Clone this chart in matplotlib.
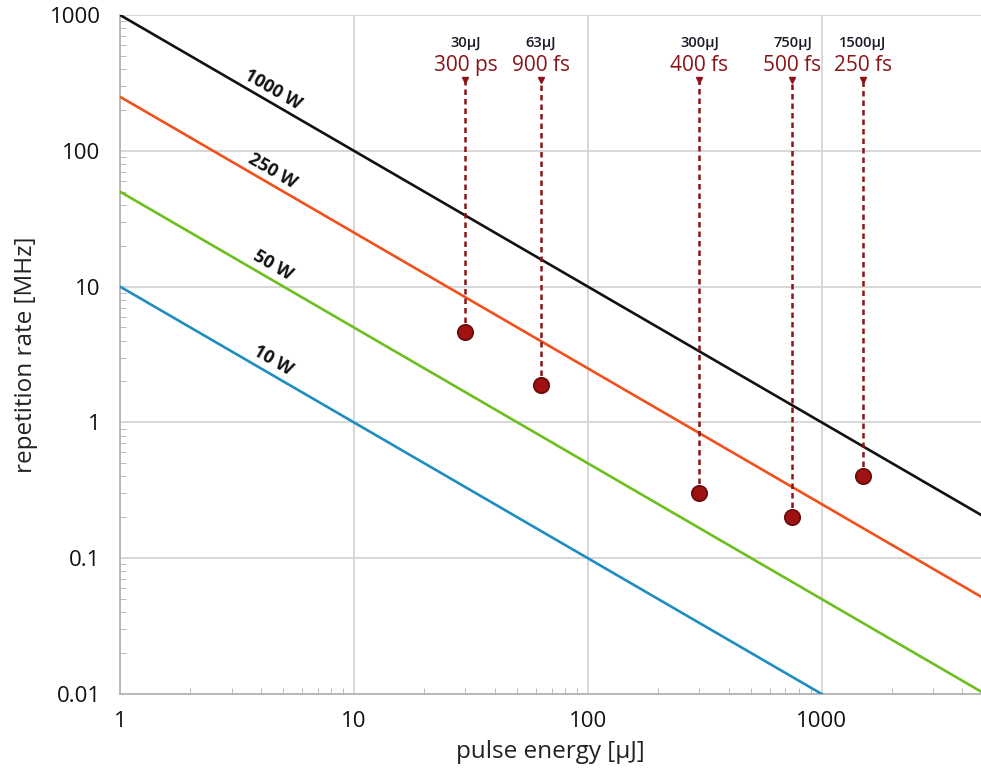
import matplotlib.pyplot as plt
from matplotlib import transforms
import numpy as np

# power lines: rep rate [MHz] = power [W] / pulse energy [uJ]
powers = [1000, 250, 50, 10]
power_labels = ["1000 W", "250 W", "50 W", "10 W"]
power_colors = ["#111111", "#f2501a", "#6cbf1f", "#1e8dc2"]

# lasers
energies = [30, 63, 300, 750, 1500]           # uJ
rates = [4.6, 1.9, 0.3, 0.2, 0.4]             # MHz
energy_labels = ["30\u00b5J", "63\u00b5J", "300\u00b5J", "750\u00b5J", "1500\u00b5J"]
duration_labels = ["300 ps", "900 fs", "400 fs", "500 fs", "250 fs"]

x_ticks = [1, 10, 100, 1000]
y_ticks = [0.01, 0.1, 1, 10, 100, 1000]
y_ticklabels = ["0.01", "0.1", "1", "10", "100", "1000"]

plt.rcParams['font.family'] = ['Open Sans', 'DejaVu Sans']

fig = plt.figure(figsize=(9.81, 7.80), dpi=100)
ax = fig.add_axes([0.1223, 0.1103, 0.8777, 0.8705])
ax.set_xscale('log')
ax.set_yscale('log')
ax.set_xlim(1, 4800)
ax.set_ylim(0.01, 1000)

e = np.array([1, 5000])
for p, lab, c in zip(powers, power_labels, power_colors):
    ax.plot(e, p / e, color=c, lw=1.9, zorder=3, solid_capstyle='butt')
    ax.text(4.5, p / 4.5 * 1.28, lab, rotation=-30.2, rotation_mode='anchor',
            ha='center', va='center', fontsize=13, fontweight='bold',
            color='#111111', zorder=4)

dark_red = "#8a1418"
trans = transforms.blended_transform_factory(ax.transData, ax.transAxes)
for x, y, el, dl in zip(energies, rates, energy_labels, duration_labels):
    y_top = 10 ** (np.log10(0.01) + 0.904 * 5)
    ax.plot([x, x], [y, y_top], color=dark_red, lw=1.8, ls=(0, (2.2, 1.6)), zorder=4)
    ax.plot([x], [y_top], marker='v', color=dark_red, ms=5, zorder=4)
    ax.text(x, 0.925, dl, transform=trans, ha='center', va='center',
            fontsize=15, color=dark_red)
    ax.text(x, 0.958, el, transform=trans, ha='center', va='center',
            fontsize=10.5, fontweight='semibold', color='#1a1a2a')

ax.plot(energies, rates, 'o', ms=11, mfc='#a01212', mec='#6a0c0c', mew=1.3, zorder=5)

ax.set_xticks(x_ticks)
ax.set_xticklabels([str(t) for t in x_ticks])
ax.set_yticks(y_ticks)
ax.set_yticklabels(y_ticklabels)
ax.grid(True, which='major', color='#d4d4d4', lw=1.3)
ax.set_axisbelow(True)

for s in ['top', 'right']:
    ax.spines[s].set_visible(False)
for s in ['left', 'bottom']:
    ax.spines[s].set_color('#b0b0b0')
    ax.spines[s].set_linewidth(1.2)

ax.tick_params(which='major', length=0, labelsize=16, colors='#111111')
ax.tick_params(axis='x', which='major', pad=12)
ax.tick_params(axis='y', which='major', pad=14)
ax.tick_params(which='minor', direction='in', length=4, color='#b0b0b0')
ax.tick_params(axis='y', which='minor', labelleft=False)
ax.tick_params(axis='x', which='minor', labelbottom=False)

ax.set_xlabel("pulse energy [\u00b5J]", fontsize=17.5, color='#222222', labelpad=6)
ax.set_ylabel("repetition rate [MHz]", fontsize=17.5, color='#222222', labelpad=8)

fig.savefig("out.png", dpi=100)
